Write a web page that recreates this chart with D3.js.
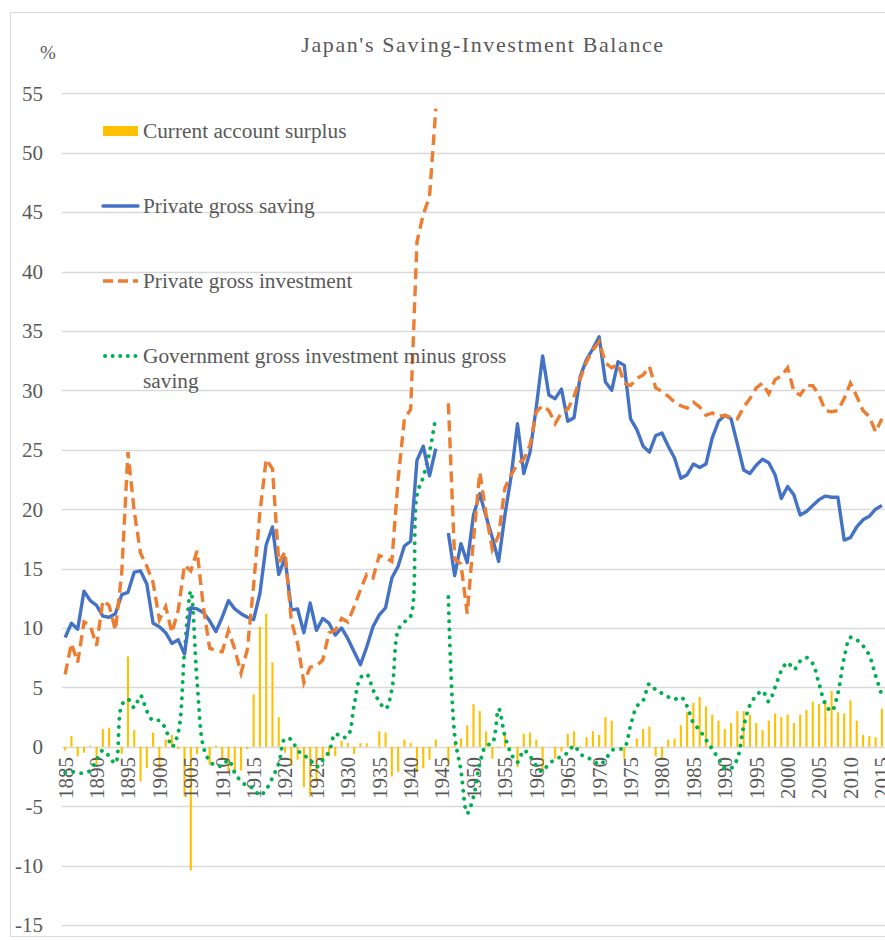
<!DOCTYPE html>
<html>
<head>
<meta charset="utf-8">
<script src="https://cdn.jsdelivr.net/npm/d3@7"></script>
<style>
  body { margin: 0; background: #fff; }
  text { font-family: "Liberation Serif", "Times New Roman", serif; fill: #595959; }
</style>
</head>
<body>
<script>
// size of the picture
var width = 885;
var height = 940;

// one category per year, 1885..2015 (1945 has no data)
var years = d3.range(1885, 2016);

// current account surplus (% of GDP), bars
var current = [
  -0.3, 0.9, -0.8, -0.5, 0.1,                          // 1885-1889
  -1.5, 1.5, 1.6, 0.0, -0.6, 7.6, 1.4, -2.9, -1.8, 1.2, // 1890s
  -1.9, 0.6, 1.0, -0.2, -4.2, -10.4, -0.6, 0.0, -1.5, 0.1, // 1900s
  -1.1, -2.2, -2.1, -2.0, -0.2, 4.4, 10.1, 11.2, 7.1, 2.5, // 1910s
  -0.5, -1.6, -1.1, -3.4, -4.2, -3.0, -1.1, -0.8, -0.8, 0.5, // 1920s
  0.3, -0.6, 0.3, 0.3, 0.0, 1.3, 1.2, -2.5, -2.1, 0.6, // 1930s
  0.3, -2.1, -1.8, -1.1, 0.6, null, -1.5, 0.3, 0.7, 1.8, // 1940s
  3.6, 3.0, 1.3, -1.0, -0.1, 1.1, -0.1, -1.7, 1.1, 1.2, // 1950s
  0.6, -2.0, 0.0, -1.0, -0.4, 1.1, 1.3, -0.1, 0.8, 1.3, // 1960s
  1.0, 2.5, 2.2, 0.0, -1.0, -0.1, 0.7, 1.5, 1.7, -0.8, // 1970s
  -1.0, 0.6, 0.7, 1.8, 2.9, 3.7, 4.2, 3.4, 2.7, 2.2,   // 1980s
  1.5, 2.0, 3.0, 3.0, 2.7, 2.0, 1.4, 2.2, 2.8, 2.5,    // 1990s
  2.7, 2.0, 2.7, 3.1, 3.8, 3.6, 3.9, 4.7, 2.9, 2.8,    // 2000s
  3.9, 2.2, 1.0, 0.9, 0.8, 3.2                          // 2010-2015
];

// private gross saving, solid blue
var saving = [
  9.2, 10.4, 9.9, 13.1, 12.3,
  11.9, 11.0, 10.9, 11.2, 12.8, 13.0, 14.7, 14.8, 13.7, 10.4,
  10.1, 9.6, 8.7, 9.0, 7.8, 11.7, 11.6, 11.3, 10.6, 9.7,
  10.9, 12.3, 11.6, 11.2, 10.9, 10.7, 12.9, 17.0, 18.5, 14.5,
  15.9, 11.5, 11.6, 9.6, 12.1, 9.8, 10.8, 10.4, 9.4, 10.0,
  9.1, 8.0, 6.9, 8.4, 10.1, 11.1, 11.7, 14.2, 15.2, 16.9,
  17.3, 24.1, 25.3, 22.8, 25.1, null, 18.0, 14.4, 17.1, 15.5,
  19.5, 21.3, 19.4, 17.6, 15.6, 19.5, 22.8, 27.2, 23.0, 24.8,
  28.6, 32.9, 29.6, 29.3, 30.1, 27.4, 27.7, 31.2, 32.6, 33.5,
  34.5, 30.7, 30.0, 32.4, 32.1, 27.6, 26.7, 25.3, 24.8, 26.2,
  26.4, 25.3, 24.3, 22.6, 22.9, 23.8, 23.5, 23.8, 26.0, 27.4,
  27.9, 27.6, 25.5, 23.3, 23.0, 23.7, 24.2, 23.9, 22.9, 20.9,
  21.9, 21.2, 19.5, 19.8, 20.3, 20.8, 21.1, 21.0, 21.0, 17.4,
  17.6, 18.5, 19.1, 19.4, 20.0, 20.3
];

// private gross investment, dashed orange
var investment = [
  6.1, 8.7, 7.1, 10.5, 10.2,
  8.5, 12.3, 11.9, 9.8, 14.6, 24.8, 19.8, 16.3, 15.2, 13.8,
  10.7, 11.8, 9.6, 11.5, 15.3, 14.8, 16.5, 11.8, 8.3, 8.1,
  8.0, 9.8, 8.2, 6.2, 8.2, 13.6, 19.7, 24.2, 23.4, 15.5,
  16.4, 10.6, 8.7, 5.4, 6.7, 6.8, 7.3, 9.6, 9.8, 10.8,
  10.5, 11.8, 13.2, 14.5, 14.2, 16.1, 15.9, 15.6, 22.5, 27.6,
  28.4, 42.5, 44.8, 46.3, 53.7, null, 28.9, 15.8, 15.4, 11.2,
  17.5, 23.1, 19.6, 16.6, 17.8, 21.8, 22.9, 23.8, 24.2, 25.4,
  28.2, 28.7, 28.3, 27.2, 28.1, 28.4, 29.5, 31.0, 32.4, 33.4,
  34.1, 32.3, 31.9, 32.2, 30.6, 30.4, 31.0, 31.3, 32.0, 30.2,
  29.9, 29.5, 29.0, 28.7, 28.5, 29.0, 28.6, 27.9, 28.1, 27.8,
  27.9, 27.7, 27.6, 28.6, 29.3, 30.2, 30.6, 29.7, 30.9, 31.2,
  31.9, 29.9, 29.6, 30.4, 30.4, 29.6, 28.3, 28.2, 28.3, 29.3,
  30.6, 29.5, 28.3, 27.8, 26.5, 27.6
];

// government gross investment minus gross saving, dotted green
var government = [
  -2.2, -2.1, -2.2, -2.2, -2.0,
  -1.1, -0.3, -0.8, -1.4, 3.5, 4.0, 3.3, 4.3, 3.0, 2.2,
  2.2, 1.5, 0.0, 1.2, 8.0, 13.1, 5.5, 0.0, -1.2, -1.6,
  -1.6, -1.1, -2.2, -2.9, -3.3, -3.5, -4.1, -3.6, -2.6, -1.4,
  0.7, 0.6, -0.3, -0.7, -1.1, -1.7, -1.1, -0.4, 1.1, 0.8,
  0.9, 3.5, 5.8, 6.1, 4.8, 3.8, 3.2, 4.8, 9.8, 10.5,
  11.0, 21.2, 22.7, 24.8, 27.8, null, 12.6, 1.0, -2.0, -5.6,
  -4.2, -1.4, 0.1, 0.3, 3.2, 0.9, -0.6, -1.3, -0.3, -0.8,
  -1.6, -2.1, -1.4, -1.1, -0.8, -0.5, 0.1, -0.6, -0.9, -1.1,
  -1.5, -1.1, -0.3, -0.2, -0.1, 1.8, 3.4, 3.9, 5.3, 4.8,
  4.5, 4.2, 4.0, 4.2, 3.4, 2.0, 1.4, 0.6, -0.2, -1.0,
  -1.8, -1.8, -1.0, 1.7, 3.5, 4.3, 4.7, 3.8, 5.0, 6.4,
  7.1, 6.5, 7.2, 7.5, 7.0, 5.3, 3.6, 3.0, 4.5, 7.5,
  9.2, 9.0, 8.5, 7.7, 6.0, 4.3
];

var yTicks = d3.range(-15, 56, 5);
var xTickYears = years.filter(function(d) { return d % 5 === 0; });

var svg = d3.select('body').append('svg')
  .attr('width', width)
  .attr('height', height);

// outer chart border
svg.append('rect')
  .attr('x', 10.5).attr('y', 12.5)
  .attr('width', 900).attr('height', 924)
  .attr('fill', 'none')
  .attr('stroke', '#d9d9d9');

var x = d3.scaleBand().domain(years).range([62, 885]);
var y = d3.scaleLinear().domain([-15, 55]).range([925, 93.3]);
var cx = function(yr) { return x(yr) + x.bandwidth() / 2; };

// gridlines
svg.append('g').selectAll('line')
  .data(yTicks)
  .enter().append('line')
  .attr('x1', 62).attr('x2', 885)
  .attr('y1', function(d) { return Math.round(y(d)) + 0.5; })
  .attr('y2', function(d) { return Math.round(y(d)) + 0.5; })
  .attr('stroke', '#d9d9d9')
  .attr('stroke-width', 1.3);

// y tick labels
svg.append('g').selectAll('text')
  .data(yTicks)
  .enter().append('text')
  .attr('x', 43)
  .attr('y', function(d) { return y(d); })
  .attr('dy', '0.35em')
  .attr('text-anchor', 'end')
  .style('font-size', '21px')
  .text(function(d) { return d; });

// bars
var barW = 2.1;
svg.append('g').selectAll('rect')
  .data(years.map(function(yr, i) { return { yr: yr, v: current[i] }; })
    .filter(function(d) { return d.v !== null; }))
  .enter().append('rect')
  .attr('x', function(d) { return cx(d.yr) - barW / 2; })
  .attr('width', barW)
  .attr('y', function(d) { return y(Math.max(0, d.v)); })
  .attr('height', function(d) { return Math.abs(y(d.v) - y(0)); })
  .attr('fill', '#FFC000');

// x tick labels, rotated (the last one runs off the right edge, as in the original)
svg.append('g').selectAll('text')
  .data(xTickYears)
  .enter().append('text')
  .attr('transform', function(d) { return 'translate(' + cx(d) + ',757) rotate(-90)'; })
  .attr('dy', '0.35em')
  .attr('text-anchor', 'end')
  .style('font-size', '21px')
  .text(function(d) { return d; });

// lines
var series = function(arr) {
  return years.map(function(yr, i) { return { yr: yr, v: arr[i] }; });
};
var line = d3.line()
  .defined(function(d) { return d.v !== null; })
  .x(function(d) { return cx(d.yr); })
  .y(function(d) { return y(d.v); });
var smooth = d3.line()
  .defined(function(d) { return d.v !== null; })
  .x(function(d) { return cx(d.yr); })
  .y(function(d) { return y(d.v); })
  .curve(d3.curveCatmullRom.alpha(0.5));

svg.append('path')
  .attr('d', smooth(series(government)))
  .attr('fill', 'none')
  .attr('stroke', '#00B050')
  .attr('stroke-width', 3.9)
  .attr('stroke-linecap', 'round')
  .attr('stroke-dasharray', '0.1,8');

svg.append('path')
  .attr('d', line(series(saving)))
  .attr('fill', 'none')
  .attr('stroke', '#4472C4')
  .attr('stroke-width', 3.4)
  .attr('stroke-linejoin', 'round');

svg.append('path')
  .attr('d', line(series(investment)))
  .attr('fill', 'none')
  .attr('stroke', '#ED7D31')
  .attr('stroke-width', 3.4)
  .attr('stroke-dasharray', '11,6');

// title and unit
svg.append('text')
  .attr('x', 483).attr('y', 52)
  .attr('text-anchor', 'middle')
  .style('font-size', '22px')
  .style('letter-spacing', '1.6px')
  .text("Japan's Saving-Investment Balance");

svg.append('text')
  .attr('x', 48).attr('y', 52)
  .attr('dy', '0.35em')
  .attr('text-anchor', 'middle')
  .style('font-size', '19px')
  .text('%');

// legend
var lg = svg.append('g');
lg.append('rect').attr('x', 103).attr('y', 126).attr('width', 35).attr('height', 10).attr('fill', '#FFC000');
lg.append('line').attr('x1', 103).attr('x2', 138).attr('y1', 206).attr('y2', 206)
  .attr('stroke', '#4472C4').attr('stroke-width', 3.4).attr('stroke-linecap', 'round');
lg.append('line').attr('x1', 103).attr('x2', 138).attr('y1', 281).attr('y2', 281)
  .attr('stroke', '#ED7D31').attr('stroke-width', 3.4).attr('stroke-dasharray', '10,5');
lg.append('line').attr('x1', 105).attr('x2', 138).attr('y1', 356).attr('y2', 356)
  .attr('stroke', '#00B050').attr('stroke-width', 3.9).attr('stroke-linecap', 'round')
  .attr('stroke-dasharray', '0.1,7.5');

var legendText = [
  { t: 'Current account surplus', y: 131 },
  { t: 'Private gross saving', y: 206 },
  { t: 'Private gross investment', y: 281 },
  { t: 'Government gross investment minus gross', y: 356 },
  { t: 'saving', y: 381 }
];
lg.selectAll('text')
  .data(legendText)
  .enter().append('text')
  .attr('x', 143)
  .attr('y', function(d) { return d.y; })
  .attr('dy', '0.35em')
  .style('font-size', '21.3px')
  .text(function(d) { return d.t; });
</script>
</body>
</html>
